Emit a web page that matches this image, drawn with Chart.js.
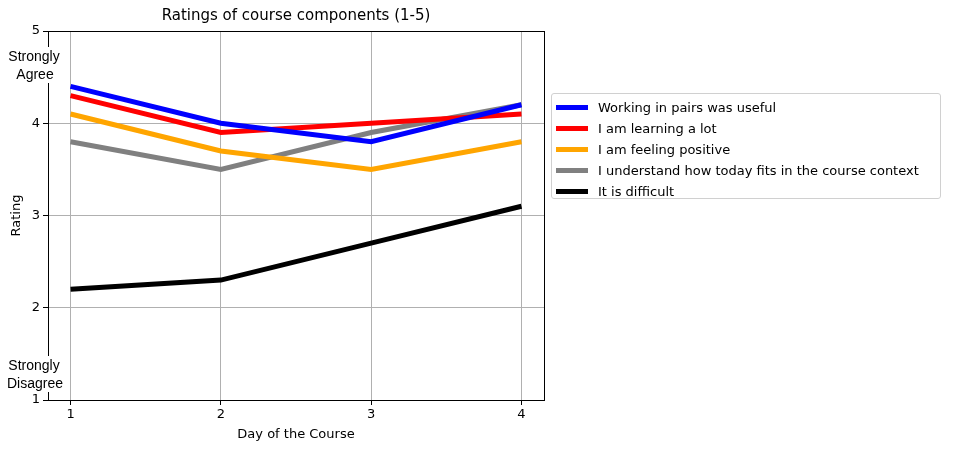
<!DOCTYPE html>
<html><head><meta charset="utf-8">
<script src="https://cdn.jsdelivr.net/npm/chart.js@4"></script>
<style>
body{margin:0;background:#fff;font-family:"DejaVu Sans",sans-serif;}
#wrap{position:relative;width:953px;height:453px;}
#legend{position:absolute;left:551px;top:93px;width:390px;height:106px;border:1px solid #d0d0d0;border-radius:3px;box-sizing:border-box;padding:3px 0 0 4px;font-size:13px;color:#000;}
.it{height:21px;display:flex;align-items:center;}
.sw{width:32px;height:5px;margin-right:10px;}
</style></head><body>
<div id="wrap"><canvas id="c" width="953" height="453"></canvas><div id="legend"></div></div>
<script>
const days=[1,2,3,4];
const labels=["Working in pairs was useful","I am learning a lot","I am feeling positive","I understand how today fits in the course context","It is difficult"];
const colors=["#0000ff","#ff0000","#ffa500","#808080","#000000"];
const pairs=[4.4,4.0,3.8,4.2];
const learning=[4.3,3.9,4.0,4.1];
const positive=[4.1,3.7,3.5,3.8];
const context=[3.8,3.5,3.9,4.2];
const difficult=[2.2,2.3,2.7,3.1];
const yTicks=[1,2,3,4,5];
const series=[pairs,learning,positive,context,difficult];
const lg=document.getElementById('legend');
labels.forEach((l,i)=>{lg.innerHTML+=`<div class="it"><div class="sw" style="background:${colors[i]}"></div>${l}</div>`;});
const font={family:"DejaVu Sans",size:13};
const deco={id:'deco',afterDraw(ch){const c=ch.ctx,a=ch.chartArea;c.save();
c.strokeStyle='#000';c.lineWidth=1;c.strokeRect(a.left+0.5,a.top+0.5,a.right-a.left,a.bottom-a.top);
c.fillStyle='#000';c.font='15px "DejaVu Sans"';c.textAlign='center';c.textBaseline='middle';
c.fillText('Ratings of course components (1-5)',(a.left+a.right)/2,16);
c.font='13px "DejaVu Sans"';c.fillText('Day of the Course',(a.left+a.right)/2,435);
c.save();c.translate(17,(a.top+a.bottom)/2);c.rotate(-Math.PI/2);c.fillText('Rating',0,0);c.restore();
c.font='14px "Liberation Sans"';
[[['Strongly','Agree'],49],[['Strongly','Disagree'],358]].forEach(([t,y])=>{c.fillStyle='#fff';c.fillRect(2,y-2,66,36);c.fillStyle='#000';c.fillText(t[0],34,y+8);c.fillText(t[1],35,y+26);});
c.restore();}};
new Chart(document.getElementById('c'),{type:'line',
data:{datasets:series.map((s,i)=>({label:labels[i],data:s.map((v,j)=>({x:days[j],y:v})),borderColor:colors[i],borderWidth:5,pointRadius:0,tension:0}))},
options:{responsive:false,animation:false,layout:{padding:{top:31,right:409,left:0,bottom:0}},
plugins:{legend:{display:false},tooltip:{enabled:false}},
scales:{
x:{type:'linear',min:0.85,max:4.15,afterBuildTicks(s){s.ticks=days.map(v=>({value:v}));},afterFit(s){s.height=53;},
ticks:{font,color:'#000',padding:2,callback:v=>String(v)},grid:{color:'#b0b0b0',tickColor:'#000',tickLength:5},border:{display:false}},
y:{min:1,max:5,afterBuildTicks(s){s.ticks=yTicks.map(v=>({value:v}));},afterFit(s){s.width=48;},
ticks:{font,color:'#000',padding:3,callback:v=>String(v)},grid:{color:'#b0b0b0',tickColor:'#000',tickLength:5},border:{display:false}}}},
plugins:[deco]});
</script></body></html>
